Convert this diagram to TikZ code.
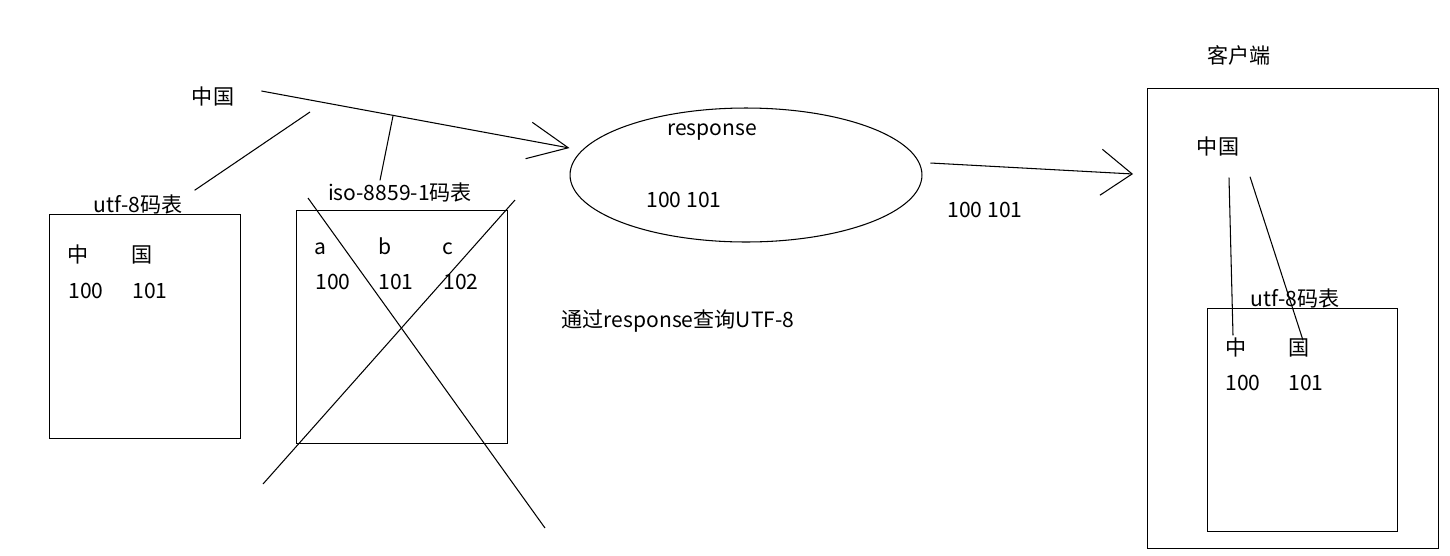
\documentclass[tikz,border=0pt]{standalone}
\usepackage{fontspec}
\setmainfont{Noto Sans CJK SC}
\usetikzlibrary{arrows.meta, shapes.geometric, positioning}

\tikzset{
  txt/.style={inner sep=0pt, text height=1.5ex, text depth=.25ex, font=\fontsize{12}{14}\selectfont},
  tbl/.style={draw, line width=0.7pt, inner sep=0pt, anchor=north west},
  wire/.style={line width=0.6pt},
  barb/.style 2 args={-{Straight Barb[length=#1, width=#2, line width=0.6pt]}}
}

\begin{document}
\begin{tikzpicture}[x=0.02cm, y=-0.02cm]
  \useasboundingbox (0,0) rectangle (1450,555);
  % Server side
  \node[txt] (word) at (213,99) {中国};
  \node[draw, ellipse, line width=0.6pt, minimum width=7.04cm, minimum height=2.68cm] (resp) at (746,175) {};
  \node[txt] (resplbl) at (712,130) {response};
  \node[txt] (respcode) at (684,202) {100 101};
  \node[txt] (query) at (678,322) {通过response查询UTF-8};
  % utf-8 table
  \node[tbl, minimum width=3.82cm, minimum height=4.48cm] (utf) at (49,214) {};
  \node[txt] (utflbl) at (138,207) {utf-8码表};
  \node[txt] (uzh) at (78,257) {中};
  \node[txt] (ugu) at (142,257) {国};
  \node[txt] (u100) at (86,293) {100};
  \node[txt] (u101) at (150,293) {101};
  % iso-8859-1 table
  \node[tbl, minimum width=4.22cm, minimum height=4.66cm] (iso) at (296,210) {};
  \node[txt] (isolbl) at (400,195) {iso-8859-1码表};
  \node[txt] (ia) at (320,249) {a};
  \node[txt] (ib) at (385,249) {b};
  \node[txt] (ic) at (448,249) {c};
  \node[txt] (i100) at (333,284) {100};
  \node[txt] (i101) at (396,284) {101};
  \node[txt] (i102) at (461,284) {102};
  % Crossed out
  \coordinate (xa) at (308,198);
  \coordinate (xb) at (545,528);
  \coordinate (xc) at (263,484);
  \coordinate (xd) at (515,200);
  \draw[wire] (xa) -- (xb);
  \draw[wire] (xc) -- (xd);
  % Encoding
  \coordinate (j1) at (310,112);
  \coordinate (j2) at (393,116);
  \draw[wire, barb={0.8cm}{0.74cm}] ([xshift=0.54cm, yshift=0.16cm]word.east) -- ([yshift=0.54cm]resp.west);
  \draw[wire] (j1) -- ([xshift=0.24cm, yshift=0.16cm]utflbl.north east);
  \draw[wire] (j2) -- ([xshift=-0.4cm, yshift=0.12cm]isolbl.north);
  % Client
  \node[txt] (clientlbl) at (1239,58) {客户端};
  \node[tbl, minimum width=5.82cm, minimum height=9.2cm] (client) at (1147,88) {};
  \node[txt] (cword) at (1218,149) {中国};
  \node[tbl, minimum width=3.8cm, minimum height=4.46cm] (cutf) at (1207,308) {};
  \node[txt] (cutflbl) at (1295,301) {utf-8码表};
  \node[txt] (czh) at (1236,350) {中};
  \node[txt] (cgu) at (1299,350) {国};
  \node[txt] (c100) at (1243,385) {100};
  \node[txt] (c101) at (1306,385) {101};
  \node[txt] (sent) at (985,212) {100 101};
  % Response to client
  \coordinate (tip) at (1133,174);
  \draw[wire, barb={0.62cm}{0.92cm}] ([xshift=0.16cm, yshift=0.24cm]resp.east) -- (tip);
  % Decoding
  \draw[wire] ([xshift=0.22cm, yshift=-0.4cm]cword.south) -- ([xshift=-0.06cm, yshift=0.12cm]czh.north);
  \draw[wire] ([xshift=0.64cm, yshift=-0.38cm]cword.south) -- ([xshift=0.08cm, yshift=0.02cm]cgu.north);
\end{tikzpicture}
\end{document}
